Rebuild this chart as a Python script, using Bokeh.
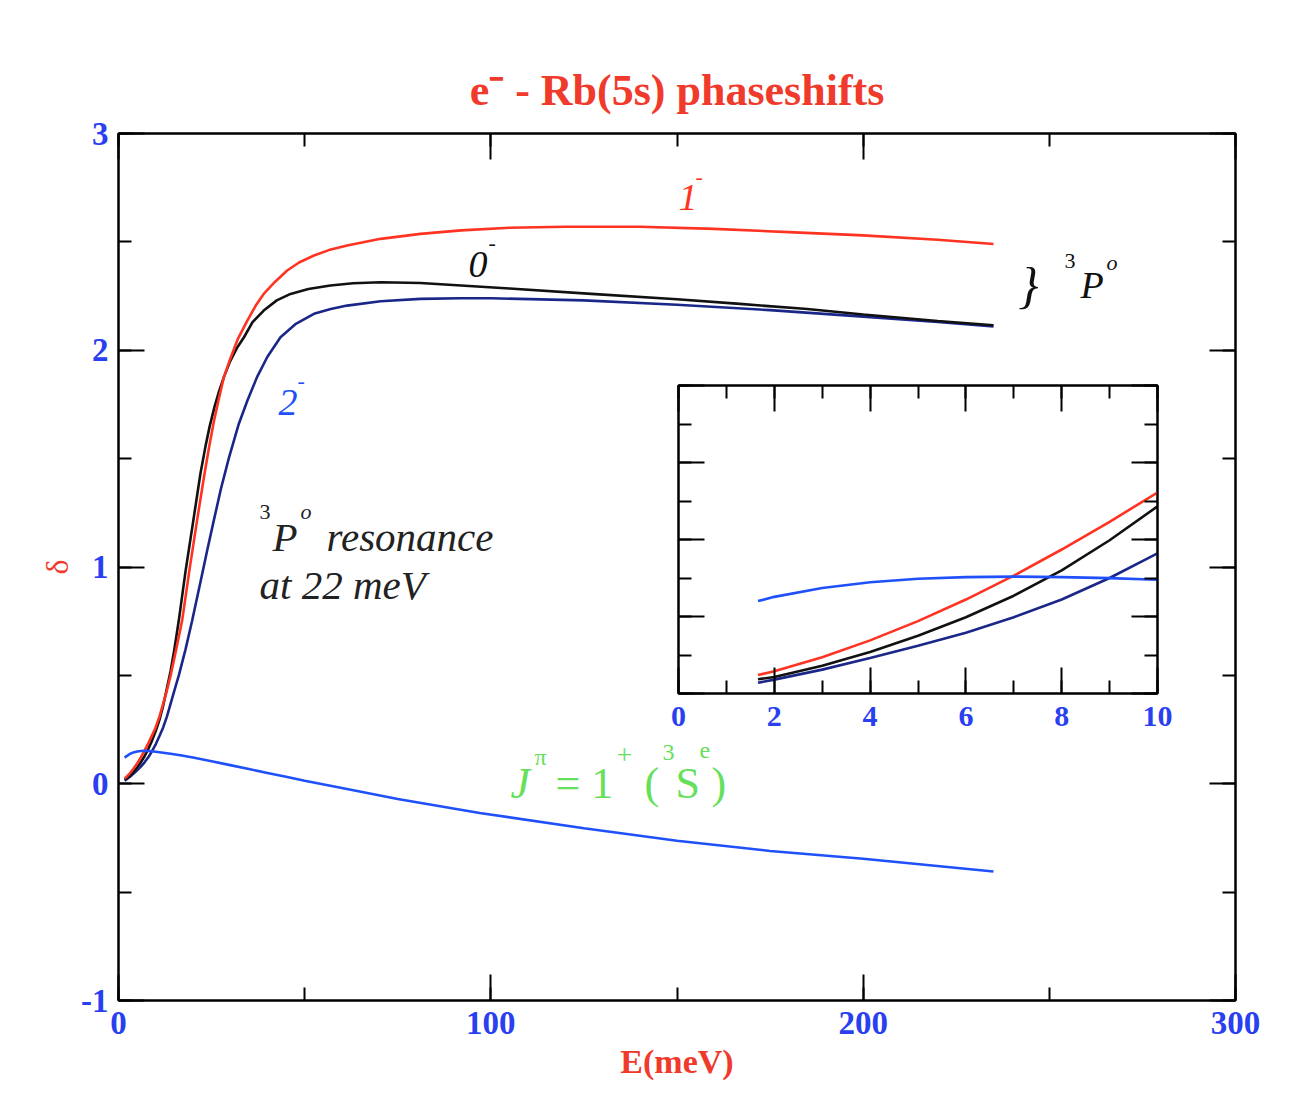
from bokeh.plotting import figure
from bokeh.models import Range1d, LinearAxis, SingleIntervalTicker, Label, CustomJSTickFormatter
from bokeh.layouts import column
from bokeh.embed import file_html
from bokeh.resources import INLINE

# ---------------- data ----------------
# 1- (red)
E_1m = [1.66, 3, 4, 5, 6, 7, 8, 9, 10, 11, 12, 13, 14, 15.5, 17.1, 19, 21.1, 23, 24.3, 25.6, 27, 28.3,
        30, 32, 34.6, 37, 39, 42, 45.3, 48.5, 52.5, 56.5, 61.4, 70.4, 81.1, 92, 105, 120, 140, 160, 180,
        200, 220, 235]
d_1m = [0.024, 0.047, 0.069, 0.094, 0.122, 0.153, 0.187, 0.223, 0.261, 0.31, 0.37, 0.43, 0.50, 0.62, 0.754,
        0.98, 1.215, 1.42, 1.55, 1.67, 1.78, 1.876, 1.96, 2.05, 2.137, 2.21, 2.26, 2.315, 2.368, 2.405,
        2.437, 2.462, 2.483, 2.514, 2.537, 2.553, 2.565, 2.57, 2.57, 2.56, 2.545, 2.53, 2.51, 2.49]
# 0- (black)
E_0m = [1.66, 3, 4, 5, 6, 7, 8, 9, 10, 11, 12, 13, 14, 15, 16.2, 18, 20.1, 22, 23.4, 24.5, 25.8, 27,
        28.3, 30, 31.8, 33.7, 36, 39, 42.5, 46.2, 51, 56.9, 63, 70.4, 81.1, 92, 105, 127, 150, 166, 185,
        200, 220, 235]
d_0m = [0.0185, 0.036, 0.054, 0.075, 0.099, 0.127, 0.160, 0.199, 0.243, 0.295, 0.36, 0.44, 0.52, 0.62,
        0.754, 0.98, 1.215, 1.43, 1.56, 1.65, 1.74, 1.81, 1.876, 1.95, 2.01, 2.06, 2.13, 2.183, 2.23, 2.26,
        2.283, 2.299, 2.309, 2.314, 2.31, 2.299, 2.285, 2.26, 2.235, 2.215, 2.19, 2.165, 2.135, 2.115]
# 2- (navy)
E_2m = [1.66, 3, 4, 5, 6, 7, 8, 9, 10, 11, 12, 13, 14, 15, 16.2, 18, 19.8, 22, 23.8, 25.6, 27.5, 29.6,
        32.3, 34.6, 37.2, 40, 43.5, 47.5, 52.5, 57, 61.4, 70.4, 81.1, 91.9, 100, 125, 150, 175, 200, 220,
        235]
d_2m = [0.014, 0.031, 0.046, 0.062, 0.079, 0.099, 0.122, 0.150, 0.182, 0.22, 0.26, 0.31, 0.37, 0.43, 0.50,
        0.62, 0.754, 0.93, 1.075, 1.215, 1.36, 1.50, 1.66, 1.767, 1.876, 1.97, 2.06, 2.12, 2.168, 2.19,
        2.206, 2.226, 2.237, 2.24, 2.24, 2.23, 2.21, 2.185, 2.155, 2.13, 2.11]
# J = 1+ (3Se) (blue)
E_1p = [1.66, 2, 3, 4, 5, 6, 7, 8, 9, 10, 12, 14, 17, 20, 25, 30, 35, 40, 45, 50, 60, 75, 97, 125, 150,
        175, 200, 235]
d_1p = [0.12, 0.1255, 0.137, 0.1445, 0.149, 0.1512, 0.1518, 0.1512, 0.1498, 0.1478, 0.143, 0.138, 0.13,
        0.121, 0.104, 0.086, 0.068, 0.05, 0.032, 0.014, -0.02, -0.07, -0.135, -0.205, -0.263, -0.31,
        -0.346, -0.405]

# inset (0-10 meV)
Ei = [1.66, 2, 3, 4, 5, 6, 7, 8, 9, 10]
di_1m = [0.024, 0.029, 0.047, 0.069, 0.094, 0.122, 0.153, 0.187, 0.223, 0.261]
di_0m = [0.0185, 0.0215, 0.036, 0.054, 0.075, 0.099, 0.127, 0.160, 0.199, 0.243]
di_2m = [0.014, 0.018, 0.031, 0.046, 0.062, 0.079, 0.099, 0.122, 0.150, 0.182]
di_1p = [0.120, 0.1255, 0.137, 0.1445, 0.149, 0.1512, 0.1518, 0.1512, 0.1498, 0.1478]

# ---------------- style ----------------
SERIF = "Liberation Serif"
RED = "#f03a2c"
LRED = "#ff3322"
BLACK = "#111111"
NAVY = "#1b2788"
BLUE = "#2050fa"
TBLUE = "#2a3ff0"
GREEN = "#66e05a"

FL, FR, FT, FB = 118, 1235, 133, 1000
W, H = 1299, 1115

p = figure(width=W, height=H, x_range=Range1d(0, 300), y_range=Range1d(-1, 3),
           output_backend="svg", toolbar_location=None,
           min_border_left=FL, min_border_right=W - FR, min_border_top=FT, min_border_bottom=H - FB)
p.background_fill_color = "white"
p.border_fill_color = "white"
p.outline_line_color = "black"
p.outline_line_width = 2
p.grid.visible = False

p.title.text = "e\u207b - Rb(5s) phaseshifts"
p.title.align = "center"
p.title.text_font = SERIF
p.title.text_font_style = "bold"
p.title.text_font_size = "44px"
p.title.text_color = RED
p.title.standoff = 37

empty = CustomJSTickFormatter(code="return ''")
plain = CustomJSTickFormatter(code="return tick.toString()")


def style_axis(ax, labels=True, tin=26, tmin=13):
    ax.major_tick_in = tin
    ax.major_tick_out = 0
    ax.minor_tick_in = tmin
    ax.minor_tick_out = 0
    ax.axis_line_color = "black"
    ax.axis_line_width = 2
    ax.major_tick_line_width = 2
    ax.minor_tick_line_width = 2
    ax.major_tick_line_color = "black"
    ax.minor_tick_line_color = "black"
    if labels:
        ax.formatter = plain
        ax.major_label_text_font = SERIF
        ax.major_label_text_font_style = "bold"
        ax.major_label_text_color = TBLUE
        ax.major_label_text_font_size = "33px"
    else:
        ax.formatter = empty
        ax.major_label_text_font_size = "1px"
        ax.major_label_standoff = 0


p.xaxis.ticker = SingleIntervalTicker(interval=100, num_minor_ticks=2)
p.yaxis.ticker = SingleIntervalTicker(interval=1, num_minor_ticks=2)
style_axis(p.xaxis[0])
style_axis(p.yaxis[0])
p.xaxis.major_label_standoff = 11
p.yaxis.major_label_standoff = 10
p.xaxis.axis_label = "E(meV)"
p.xaxis.axis_label_text_font = SERIF
p.xaxis.axis_label_text_font_style = "bold"
p.xaxis.axis_label_text_color = RED
p.xaxis.axis_label_text_font_size = "34px"
p.xaxis.axis_label_standoff = 6
p.yaxis.axis_label = "δ"
p.yaxis.axis_label_text_font = SERIF
p.yaxis.axis_label_text_font_style = "normal"
p.yaxis.axis_label_text_color = RED
p.yaxis.axis_label_text_font_size = "32px"
p.yaxis.axis_label_standoff = 3

top = LinearAxis(ticker=SingleIntervalTicker(interval=100, num_minor_ticks=2))
style_axis(top, labels=False)
p.add_layout(top, "above")
right = LinearAxis(ticker=SingleIntervalTicker(interval=1, num_minor_ticks=2))
style_axis(right, labels=False)
p.add_layout(right, "right")

p.line(E_2m, d_2m, line_color=NAVY, line_width=2.6)
p.line(E_0m, d_0m, line_color=BLACK, line_width=2.6)
p.line(E_1m, d_1m, line_color=LRED, line_width=2.6)
p.line(E_1p, d_1p, line_color=BLUE, line_width=2.6)

SX = (FR - FL) / 300.0
SY = (FB - FT) / 4.0


def txt(x, y, s, size, color, style="italic", align="left"):
    """x, y: pixel position in the page (baseline / left)."""
    p.add_layout(Label(x=(x - FL) / SX, y=(FB - y) / SY - 1, text=s, text_font=SERIF,
                       text_font_size=f"{size}px", text_color=color, text_font_style=style,
                       text_align=align, text_baseline="alphabetic"))


# curve labels
txt(678, 197, "1", 38, LRED)
txt(695, 176, "-", 22, LRED)
txt(468, 264, "0", 38, BLACK)
txt(488, 242, "-", 22, BLACK)
txt(278, 402, "2", 38, BLUE)
txt(297, 380, "-", 22, BLUE)

# brace + 3P^o
txt(1018, 284, "}", 50, BLACK)
txt(1064, 260, "3", 22, BLACK, "normal")
txt(1080, 284, "P", 38, BLACK)
txt(1106, 262, "o", 22, BLACK)

# resonance text
TXT = "#222222"
txt(259, 511, "3", 22, TXT, "normal")
txt(272, 536, "P", 41, TXT)
txt(300, 511, "o", 22, TXT)
txt(326, 536, "resonance", 41, TXT)
txt(259, 584, "at 22 meV", 41, TXT)

# J^pi = 1^+ (3S^e)
txt(510, 783, "J", 44, GREEN)
txt(534, 756, "π", 24, GREEN, "normal")
txt(555, 783, "= 1", 44, GREEN, "normal")
txt(616, 754, "+", 28, GREEN, "normal")
txt(644, 783, "(", 44, GREEN, "normal")
txt(662, 752, "3", 24, GREEN, "normal")
txt(675, 783, "S", 44, GREEN, "normal")
txt(699, 750, "e", 24, GREEN, "normal")
txt(711, 783, ")", 44, GREEN, "normal")

# ---------------- inset ----------------
IL, IT, IW, IH = 678, 385, 479, 308
ib_l, ib_r, ib_t, ib_b = FL, W - FR, 5, 50   # left/right borders equal to the main plot's (column aligns them)
ins = figure(width=ib_l + IW + ib_r, height=ib_t + IH + ib_b, x_range=Range1d(0, 10), y_range=Range1d(0, 0.4),
             output_backend="svg", toolbar_location=None,
             min_border_left=ib_l, min_border_right=ib_r, min_border_top=ib_t, min_border_bottom=ib_b)
ins.background_fill_color = "white"
ins.border_fill_alpha = 0
ins.outline_line_color = "black"
ins.outline_line_width = 2
ins.grid.visible = False
ins.xaxis.ticker = SingleIntervalTicker(interval=2, num_minor_ticks=2)
ins.yaxis.ticker = SingleIntervalTicker(interval=0.1, num_minor_ticks=2)
style_axis(ins.xaxis[0])
ins.xaxis.major_label_text_font_size = "30px"
ins.xaxis.major_label_standoff = 13
style_axis(ins.yaxis[0], labels=False)
it = LinearAxis(ticker=SingleIntervalTicker(interval=2, num_minor_ticks=2))
style_axis(it, labels=False)
ins.add_layout(it, "above")
ir = LinearAxis(ticker=SingleIntervalTicker(interval=0.1, num_minor_ticks=2))
style_axis(ir, labels=False)
ins.add_layout(ir, "right")

ins.line(Ei, di_2m, line_color=NAVY, line_width=2.6)
ins.line(Ei, di_0m, line_color=BLACK, line_width=2.6)
ins.line(Ei, di_1m, line_color=LRED, line_width=2.6)
ins.line(Ei, di_1p, line_color=BLUE, line_width=2.6)

ins.styles = {"position": "absolute", "left": f"{IL - ib_l}px", "top": f"{IT - ib_t}px", "z-index": "10"}

layout = column(p, ins)
open("out.html", "w").write(file_html(layout, INLINE))
